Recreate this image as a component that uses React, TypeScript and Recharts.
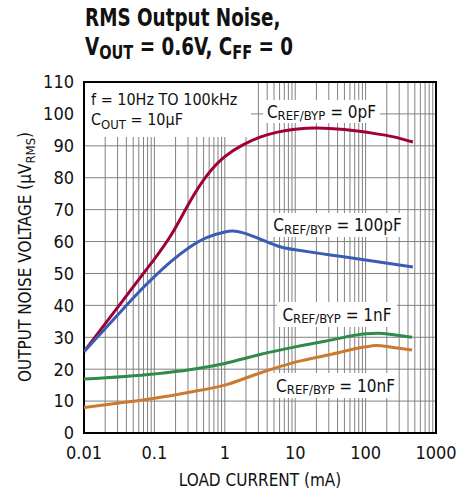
import React from 'react';
import { LineChart, Line, XAxis, YAxis, CartesianGrid, ReferenceArea } from 'recharts';

const FONT = "'Liberation Sans Narrow', 'Arial Narrow', 'DejaVu Sans Condensed', sans-serif";

const xTicks = [
  0.01, 0.02, 0.03, 0.04, 0.05, 0.06, 0.07, 0.08, 0.09,
  0.1, 0.2, 0.3, 0.4, 0.5, 0.6, 0.7, 0.8, 0.9,
  1, 2, 3, 4, 5, 6, 7, 8, 9,
  10, 20, 30, 40, 50, 60, 70, 80, 90,
  100, 200, 300, 400, 500, 600, 700, 800, 900,
  1000,
];
const xLabelTicks = [0.01, 0.1, 1, 10, 100, 1000];
const yTicks = [0, 10, 20, 30, 40, 50, 60, 70, 80, 90, 100, 110];

const cap0pF = [
  { x: 0.01, y: 25.5 }, { x: 0.0178, y: 32.8 }, { x: 0.0316, y: 40 }, { x: 0.0562, y: 47.3 },
  { x: 0.1, y: 54.5 }, { x: 0.178, y: 62.5 }, { x: 0.316, y: 72.3 }, { x: 0.562, y: 80.8 },
  { x: 1, y: 86.6 }, { x: 1.78, y: 90.2 }, { x: 3.16, y: 92.7 }, { x: 5.62, y: 94.3 },
  { x: 10, y: 95.2 }, { x: 20, y: 95.6 }, { x: 50, y: 95.1 }, { x: 130, y: 93.9 },
  { x: 250, y: 92.8 }, { x: 470, y: 91.2 },
];
const cap100pF = [
  { x: 0.01, y: 25.5 }, { x: 0.0178, y: 31.5 }, { x: 0.0316, y: 37.5 }, { x: 0.0562, y: 43.5 },
  { x: 0.1, y: 49 }, { x: 0.178, y: 54 }, { x: 0.316, y: 58.2 }, { x: 0.562, y: 61.3 },
  { x: 1, y: 63 }, { x: 1.3, y: 63.3 }, { x: 1.78, y: 62.8 }, { x: 3.16, y: 60.8 },
  { x: 5.62, y: 58.6 }, { x: 10, y: 57.4 }, { x: 31.6, y: 55.8 }, { x: 100, y: 54.2 },
  { x: 470, y: 52 },
];
const cap1nF = [
  { x: 0.01, y: 16.9 }, { x: 0.1, y: 18.5 }, { x: 0.316, y: 19.8 }, { x: 1, y: 21.8 },
  { x: 3.16, y: 24.6 }, { x: 10, y: 27 }, { x: 31.6, y: 29.1 }, { x: 100, y: 31.1 },
  { x: 150, y: 31.3 }, { x: 250, y: 30.8 }, { x: 457, y: 30 },
];
const cap10nF = [
  { x: 0.01, y: 8 }, { x: 0.0316, y: 9.4 }, { x: 0.1, y: 10.9 }, { x: 0.316, y: 12.8 },
  { x: 1, y: 15 }, { x: 3.16, y: 18.8 }, { x: 10, y: 22.2 }, { x: 31.6, y: 24.6 },
  { x: 100, y: 27 }, { x: 140, y: 27.4 }, { x: 250, y: 26.8 }, { x: 457, y: 26 },
];

const RED = '#a0003a';
const BLUE = '#3a5cb4';
const GREEN = '#2f8a4c';
const ORANGE = '#cc7a30';

const sub = (t: string, size = 13) => (
  <span style={{ fontSize: size, position: 'relative', top: 4 }}>{t}</span>
);

const Box = ({ left, top, width, height, children }: any) => (
  <div
    style={{
      position: 'absolute', left, top, width, height, background: '#fff',
      display: 'flex', alignItems: 'center', justifyContent: 'center',
      fontFamily: FONT, fontSize: 17, color: '#111', whiteSpace: 'nowrap',
    }}
  >
    {children}
  </div>
);

const fmtX = (v: number) => (xLabelTicks.includes(v) ? String(v) : '');

export default function App() {
  return (
    <div style={{ position: 'absolute', left: 0, top: 0, width: 469, height: 496, background: '#fff', fontFamily: FONT }}>
      <LineChart
        width={469}
        height={496}
        margin={{ top: 82, right: 33, bottom: 33, left: 24 }}
      >
        <CartesianGrid stroke="#808080" strokeWidth={1} />
        <XAxis
          dataKey="x"
          type="number"
          scale="log"
          domain={[0.01, 1000]}
          ticks={xTicks}
          tickFormatter={fmtX}
          interval={0}
          allowDataOverflow
          height={30}
          tickLine={false}
          tickSize={0}
          tickMargin={13}
          axisLine={false}
          tick={{ fill: '#111', fontSize: 18, fontFamily: FONT }}
        />
        <YAxis
          type="number"
          domain={[0, 110]}
          ticks={yTicks}
          interval={0}
          width={60}
          tickLine={false}
          tickSize={0}
          tickMargin={10}
          axisLine={false}
          tick={{ fill: '#111', fontSize: 18, fontFamily: FONT }}
        />
        <ReferenceArea x1={0.01} x2={1000} y1={0} y2={110} stroke="#000" strokeWidth={2} fill="none" fillOpacity={0} />
        <Line data={cap0pF} dataKey="y" type="natural" stroke={RED} strokeWidth={3} dot={false} isAnimationActive={false} />
        <Line data={cap100pF} dataKey="y" type="natural" stroke={BLUE} strokeWidth={3} dot={false} isAnimationActive={false} />
        <Line data={cap1nF} dataKey="y" type="monotone" stroke={GREEN} strokeWidth={3} dot={false} isAnimationActive={false} />
        <Line data={cap10nF} dataKey="y" type="monotone" stroke={ORANGE} strokeWidth={3} dot={false} isAnimationActive={false} />
      </LineChart>

      <div style={{ position: 'absolute', left: 85, top: 4, fontFamily: FONT, fontWeight: 'bold', fontSize: 24, lineHeight: '29px', color: '#111', whiteSpace: 'nowrap', transform: 'scaleX(0.85)', transformOrigin: 'left top' }}>
        <div>RMS Output Noise,</div>
        <div>V{sub('OUT', 19)} = 0.6V, C{sub('FF', 19)} = 0</div>
      </div>

      <div style={{ position: 'absolute', left: 85, top: 83, width: 166, height: 54, background: '#fff', fontFamily: FONT, fontSize: 16, color: '#111', lineHeight: '20px', padding: '7px 0 0 6px', boxSizing: 'border-box', whiteSpace: 'nowrap' }}>
        <div>f = 10Hz TO 100kHz</div>
        <div>C{sub('OUT')} = 10µF</div>
      </div>

      <Box left={263} top={100} width={117} height={23}>C{sub('REF/BYP')}&nbsp;= 0pF</Box>
      <Box left={270} top={213} width={135} height={24}>C{sub('REF/BYP')}&nbsp;= 100pF</Box>
      <Box left={277} top={302} width={120} height={25}>C{sub('REF/BYP')}&nbsp;= 1nF</Box>
      <Box left={273} top={373} width={125} height={25}>C{sub('REF/BYP')}&nbsp;= 10nF</Box>

      <div style={{ position: 'absolute', left: 260, top: 480, transform: 'translate(-50%, -50%)', fontFamily: FONT, fontSize: 17, color: '#111', whiteSpace: 'nowrap' }}>
        LOAD CURRENT (mA)
      </div>
      <div style={{ position: 'absolute', left: 25, top: 257, transform: 'translate(-50%, -50%) rotate(-90deg)', fontFamily: FONT, fontSize: 17, color: '#111', whiteSpace: 'nowrap' }}>
        OUTPUT NOISE VOLTAGE (µV{sub('RMS')})
      </div>
    </div>
  );
}
